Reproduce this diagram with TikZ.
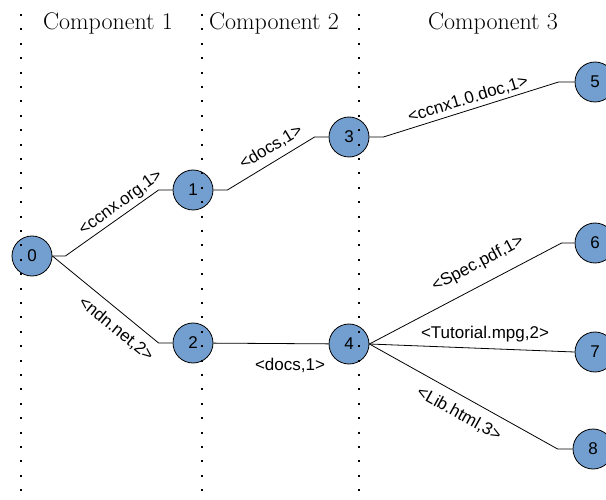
\documentclass[tikz,border=0pt]{standalone}
\usepackage{fontspec}
\newfontfamily\labelfont{Liberation Sans}
\definecolor{nodeblue}{HTML}{729FCF}

\begin{document}
\begin{tikzpicture}[x=1pt, y=-1pt, line width=0.8pt,
    vertex/.style={circle, draw, fill=nodeblue, minimum size=40pt, inner sep=0pt,
        font=\labelfont\fontsize{17}{20}\selectfont},
    lbl/.style={font=\labelfont\fontsize{17}{20}\selectfont, inner sep=1pt},
    header/.style={font=\fontsize{24}{28}\selectfont, anchor=base},
    divider/.style={line width=2pt, dash pattern=on 2pt off 12.4pt}]
\useasboundingbox (0,0) rectangle (606,500);

% components
\node[header] (c1) at (108,30) {Component 1};
\node[header] (c2) at (274,30) {Component 2};
\node[header] (c3) at (493,30) {Component 3};

% name tree
\node[vertex] (n0) at (32,256) {0};
\node[vertex] (n1) at (193,190) {1};
\node[vertex] (n2) at (193,343) {2};
\node[vertex] (n3) at (349,137) {3};
\node[vertex] (n4) at (349,344) {4};
\node[vertex] (n5) at (595,82) {5};
\node[vertex] (n6) at (595,243) {6};
\node[vertex] (n7) at (595,352) {7};
\node[vertex] (n8) at (593,449) {8};

\draw (n0.east) -- ++(13,0) -- ([xshift=-14pt]n1.west) -- (n1.west);
\draw (n0.east) -- ([xshift=-14pt]n2.west) -- (n2.west);
\draw (n1.east) -- ++(14,0) -- ([xshift=-14pt]n3.west) -- (n3.west);
\draw (n3.east) -- ++(14,0) -- ([xshift=-16pt]n5.west) -- (n5.west);
\draw (n2) -- (n4);
\draw (n4.east) -- ([xshift=-13pt]n6.west) -- (n6.west);
\draw (n4.east) -- (n7.west);
\draw (n4.east) -- ([xshift=-15pt]n8.west) -- (n8.west);

\node[lbl, rotate=36] (l01) at (121,203) {<ccnx.org,1>};
\node[lbl, rotate=-39] (l02) at (116,329) {<ndn.net,2>};
\node[lbl, rotate=31] (l13) at (271,147) {<docs,1>};
\node[lbl, rotate=17] (l35) at (468,99) {<ccnx1.0.doc,1>};
\node[lbl] (l24) at (290,365) {<docs,1>};
\node[lbl, rotate=28] (l46) at (478,264) {<Spec.pdf,1>};
\node[lbl] (l47) at (485,334) {<Tutorial.mpg,2>};
\node[lbl, rotate=-29] (l48) at (459,414) {<Lib.html,3>};

% borders between components
\foreach \x in {21,202,359}
    \draw[divider] (\x,14) -- (\x,498);
\end{tikzpicture}
\end{document}
